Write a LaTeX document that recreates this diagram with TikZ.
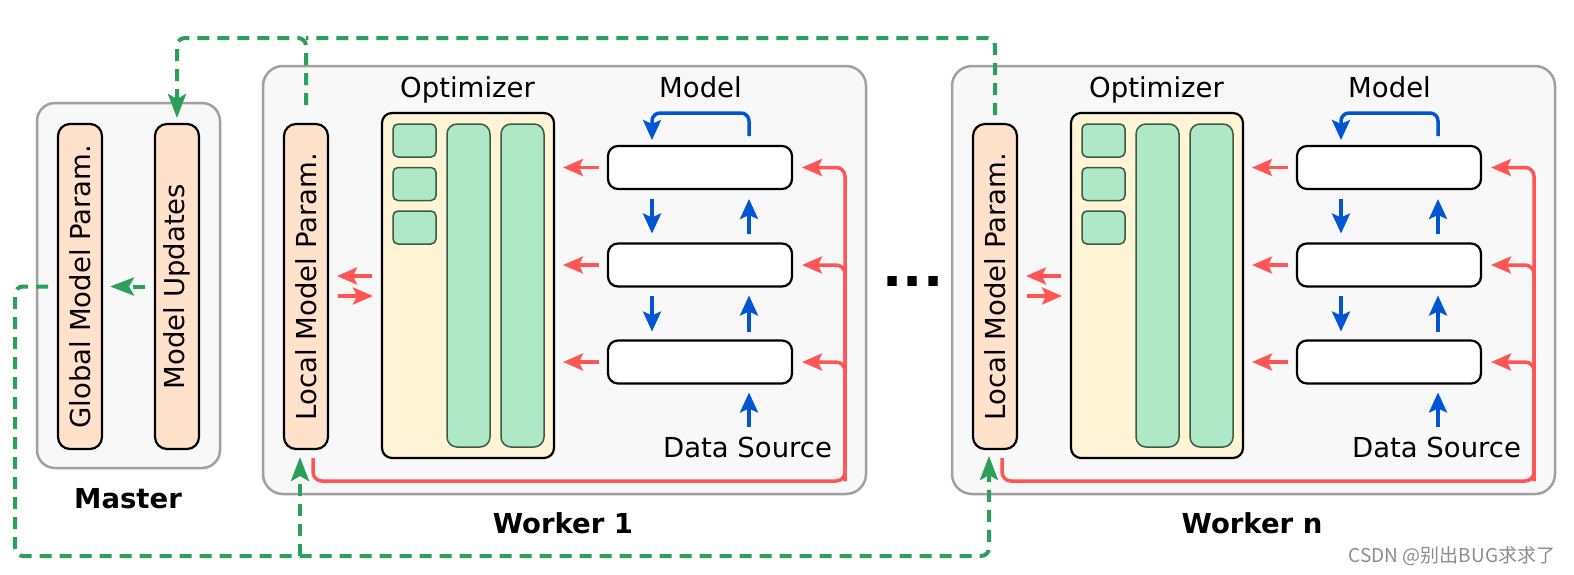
\documentclass[tikz,border=0pt]{standalone}
\usepackage{fontspec}
\setmainfont{DejaVu Sans}
\newfontfamily\cjk{Noto Sans CJK SC}
\usepackage{graphicx}
\usetikzlibrary{arrows.meta,calc}
\definecolor{panelfill}{HTML}{F8F8F8}
\definecolor{panelline}{HTML}{A0A0A0}
\definecolor{peach}{HTML}{FFE1CC}
\definecolor{optfill}{HTML}{FFF4D5}
\definecolor{gfill}{HTML}{AEE8C6}
\definecolor{gline}{HTML}{3A5A46}
\definecolor{redc}{HTML}{FF5555}
\definecolor{bluec}{HTML}{0055D4}
\definecolor{greenc}{HTML}{2CA05A}
\begin{document}
\begin{tikzpicture}[x=1pt,y=-1pt,
  every node/.style={inner sep=0pt, outer sep=0pt},
  panel/.style={draw=panelline, fill=panelfill, line width=2.5pt, rounded corners=20pt},
  pill/.style={draw=black, fill=peach, line width=2.2pt, rounded corners=12pt,
    minimum width=44pt, minimum height=325pt, font=\fontsize{27.5}{33}\selectfont},
  optbox/.style={draw=black, fill=optfill, line width=2.2pt, rounded corners=10pt,
    minimum width=172pt, minimum height=345pt},
  gsq/.style={draw=gline, fill=gfill, line width=1.5pt, rounded corners=5pt,
    minimum width=43pt, minimum height=33pt},
  gcol/.style={draw=gline, fill=gfill, line width=1.5pt, rounded corners=10pt,
    minimum width=43pt, minimum height=323pt},
  mbox/.style={draw=black, fill=white, line width=2.2pt, rounded corners=10pt,
    minimum width=184pt, minimum height=43pt},
  lbl/.style={font=\fontsize{27.5}{33}\selectfont, anchor=base},
  blbl/.style={font=\fontsize{27.5}{33}\selectfont\bfseries, anchor=base},
  redarrow/.style={draw=redc, line width=3.5pt, -{Stealth[length=20pt,width=17pt,inset=4pt]}},
  bluearrow/.style={draw=bluec, line width=3.5pt, -{Stealth[length=20pt,width=18pt,inset=4pt]}},
  gdash/.style={draw=greenc, line width=4pt, dash pattern=on 12pt off 8pt},
  garrow/.style={-{Stealth[length=24pt,width=18pt,inset=5pt]}}
]
\useasboundingbox (0,0) rectangle (1574,574);

% Master
\node[panel, rounded corners=18pt, minimum width=183pt, minimum height=365pt] (mp) at (128.5,285.5) {};
\node[pill] (gp) at (80,286.5) {\rotatebox{90}{Global Model Param.}};
\node[pill] (mu) at (177,286.5) {\rotatebox{90}{Model Updates}};
\node[blbl] (ml) at (128,508) {Master};

% Workers
\foreach \s/\dx/\wl in {1/0/Worker 1, n/689/Worker n}{
\begin{scope}[xshift=\dx pt]
  \node[panel, minimum width=603pt, minimum height=428pt] (wp\s) at (564.5,280) {};
  \node[pill] (lp\s) at (306,286.5) {\rotatebox{90}{Local Model Param.}};
  \node[lbl] (opl\s) at (467.5,97) {Optimizer};
  \node[lbl] (mdl\s) at (700.5,97) {Model};
  \node[optbox] (opt\s) at (468,285.5) {};
  \node[gsq] (sa\s) at (414.5,140.5) {};
  \node[gsq] (sb\s) at (414.5,184) {};
  \node[gsq] (sc\s) at (414.5,227.5) {};
  \node[gcol] (ca\s) at (468.5,285.5) {};
  \node[gcol] (cb\s) at (522.5,285.5) {};
  \node[mbox] (ma\s) at (700,167.5) {};
  \node[mbox] (mb\s) at (700,265) {};
  \node[mbox] (mc\s) at (700,362) {};
  \node[lbl] (ds\s) at (747.5,457) {Data Source};
  \node[blbl] (wl\s) at (563,533) {\wl};
  % blue
  \draw[bluearrow, rounded corners=8pt, shorten >=6pt]
    ([xshift=49pt,yshift=10pt]ma\s.north) -- ++(0,-23) -| ([xshift=-48pt]ma\s.north);
  \draw[bluearrow, shorten <=10pt, shorten >=10pt] ([xshift=-48pt]ma\s.south) -- ([xshift=-48pt]mb\s.north);
  \draw[bluearrow, shorten <=10pt, shorten >=10pt] ([xshift=49pt]mb\s.north) -- ([xshift=49pt]ma\s.south);
  \draw[bluearrow, shorten <=9pt, shorten >=9pt] ([xshift=-48pt]mb\s.south) -- ([xshift=-48pt]mc\s.north);
  \draw[bluearrow, shorten <=9pt, shorten >=9pt] ([xshift=49pt]mc\s.north) -- ([xshift=49pt]mb\s.south);
  \draw[bluearrow, shorten <=10pt, shorten >=9pt] ([xshift=1.5pt]ds\s.north) -- ([xshift=49pt]mc\s.south);
  % red left
  \draw[redarrow, shorten <=9pt, shorten >=9pt] (ma\s.west) -- (ma\s.west -| opt\s.east);
  \draw[redarrow, shorten <=9pt, shorten >=9pt] (mb\s.west) -- (mb\s.west -| opt\s.east);
  \draw[redarrow, shorten <=9pt, shorten >=9pt] (mc\s.west) -- (mc\s.west -| opt\s.east);
  % red feedback
  \coordinate (rc\s) at (845,481);
  \draw[redarrow, rounded corners=9pt, shorten >=10pt]
    ([xshift=7pt,yshift=-9pt]lp\s.south) |- (rc\s) |- (ma\s.east);
  \draw[redarrow, rounded corners=9pt, shorten >=10pt] (rc\s) |- (mb\s.east);
  \draw[redarrow, rounded corners=9pt, shorten >=10pt] (rc\s) |- (mc\s.east);
  % red between local param and optimizer
  \draw[redarrow, shorten <=10pt, shorten >=9pt] (opt\s.west |- 0,276) -- (lp\s.east |- 0,276);
  \draw[redarrow, shorten <=10pt, shorten >=9pt] (lp\s.east |- 0,296) -- (opt\s.west |- 0,296);
\end{scope}
}

\node[anchor=base, font=\fontsize{53}{60}\selectfont\bfseries] (dots) at (913,286) {...};

% green dashed
\coordinate (tl) at (177,38);
\coordinate (bl) at (15,556);
\draw[gdash, garrow, rounded corners=8pt, shorten >=6pt]
  ([yshift=19pt]lp1.north) |- (tl) -- (mu.north);
\draw[gdash, rounded corners=8pt]
  ([yshift=9pt]lpn.north) |- (lp1.north |- tl);
\draw[gdash, garrow, shorten <=10pt, shorten >=8pt] (mu.west) -- (gp.east);
\draw[gdash, garrow, rounded corners=8pt, shorten <=10pt, shorten >=7pt]
  (gp.west) -| (bl) -| ([xshift=-6pt]lpn.south);
\draw[gdash, garrow, shorten >=8pt]
  ([xshift=-6pt]lp1.south |- bl) -- ([xshift=-6pt]lp1.south);

\node[anchor=base, font=\cjk\fontsize{19}{22}\selectfont, text=black!45] (wm) at (1452,562) {CSDN @别出BUG求求了};
\end{tikzpicture}
\end{document}
